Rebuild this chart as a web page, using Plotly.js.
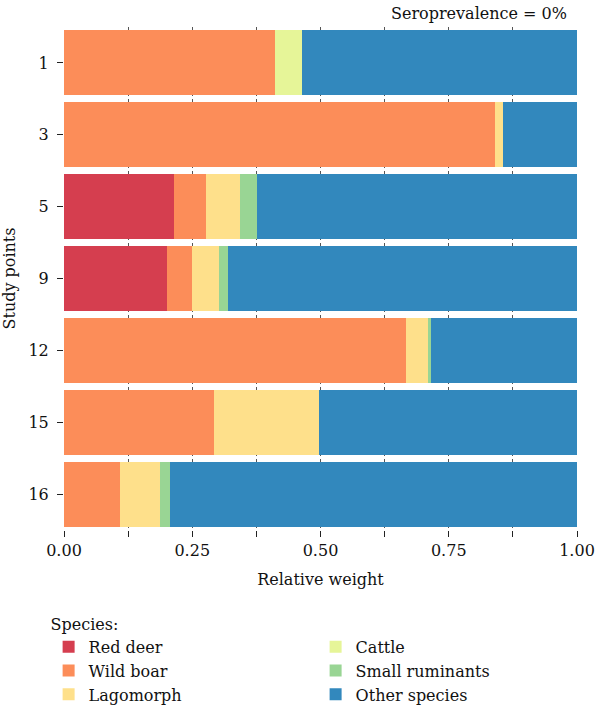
<!DOCTYPE html>
<html>
<head>
<meta charset="utf-8">
<script src="https://cdn.plot.ly/plotly-3.0.1.min.js"></script>
<style>
  html, body { margin: 0; padding: 0; background: #fff; }
  #chart { width: 600px; height: 708px; }
</style>
</head>
<body>
<div id="chart"></div>
<script>
// Study points, top to bottom
const studyPoints = ['1', '3', '5', '9', '12', '15', '16'];

// Relative weight of each species per study point (each row sums to 1)
const redDeer        = [0.000, 0.000, 0.214, 0.201, 0.000, 0.000, 0.000];
const wildBoar       = [0.411, 0.840, 0.063, 0.048, 0.666, 0.292, 0.109];
const lagomorph      = [0.000, 0.016, 0.066, 0.053, 0.044, 0.206, 0.079];
const cattle         = [0.053, 0.000, 0.000, 0.000, 0.000, 0.000, 0.000];
const smallRuminants = [0.000, 0.000, 0.033, 0.018, 0.005, 0.000, 0.019];
const otherSpecies   = [0.536, 0.144, 0.624, 0.680, 0.285, 0.502, 0.793];

const speciesNames  = ['Red deer', 'Wild boar', 'Lagomorph', 'Cattle', 'Small ruminants', 'Other species'];
const speciesValues = [redDeer, wildBoar, lagomorph, cattle, smallRuminants, otherSpecies];
const speciesColors = ['#D53E4F', '#FC8D59', '#FEE08B', '#E6F598', '#99D594', '#3288BD'];
// legend reads down two columns: left = first three, right = last three
const legendRanks   = [1, 3, 5, 2, 4, 6];

const xTickVals = [0, 0.125, 0.25, 0.375, 0.5, 0.625, 0.75, 0.875, 1];
const xTickText = ['0.00', '', '0.25', '', '0.50', '', '0.75', '', '1.00'];

const FONT = 'DejaVu Serif, serif';
const FS = 16;

const traces = speciesNames.map((name, i) => ({
  type: 'bar',
  orientation: 'h',
  name: name,
  x: speciesValues[i],
  y: studyPoints,
  marker: { color: speciesColors[i], line: { width: 0 } },
  legendrank: legendRanks[i],
  hovertemplate: name + ': %{x:.3f}<extra></extra>'
}));

const layout = {
  width: 600,
  height: 708,
  barmode: 'stack',
  bargap: 0.095,
  paper_bgcolor: '#ffffff',
  plot_bgcolor: '#ffffff',
  font: { family: FONT, size: FS, color: '#111111' },
  margin: { l: 64, r: 23, t: 27, b: 178, autoexpand: false },
  xaxis: {
    range: [0, 1],
    tickmode: 'array',
    tickvals: xTickVals,
    ticktext: xTickText,
    ticks: 'outside',
    ticklen: 6,
    tickwidth: 1,
    tickcolor: '#222222',
    showline: false,
    zeroline: false,
    showgrid: true,
    gridcolor: '#555555',
    gridwidth: 1,
    griddash: 'dot',
    tickfont: { family: FONT, size: FS, color: '#111111' },
    title: { text: 'Relative weight', font: { family: FONT, size: FS }, standoff: 14 },
    automargin: false,
    fixedrange: true
  },
  yaxis: {
    type: 'category',
    categoryorder: 'array',
    categoryarray: studyPoints,
    autorange: 'reversed',
    ticks: 'outside',
    ticklen: 6,
    tickwidth: 1,
    tickcolor: '#222222',
    ticklabelstandoff: 5,
    showgrid: false,
    showline: false,
    zeroline: false,
    tickfont: { family: FONT, size: FS, color: '#111111' },
    title: { text: 'Study points', font: { family: FONT, size: FS }, standoff: 12 },
    automargin: false,
    fixedrange: true
  },
  legend: {
    orientation: 'h',
    x: -0.03,
    xanchor: 'left',
    y: -0.157,
    yanchor: 'top',
    traceorder: 'normal',
    entrywidth: 222,
    entrywidthmode: 'pixels',
    font: { family: FONT, size: FS, color: '#111111' },
    title: { text: 'Species:', side: 'top', font: { family: FONT, size: FS } },
    bgcolor: 'rgba(0,0,0,0)'
  },
  annotations: [{
    text: 'Seroprevalence = 0%',
    xref: 'paper', yref: 'paper',
    x: 1, y: 1,
    xanchor: 'right', yanchor: 'bottom',
    xshift: -8, yshift: 2,
    showarrow: false,
    font: { family: FONT, size: FS, color: '#111111' }
  }],
  showlegend: true
};

Plotly.newPlot('chart', traces, layout, { displayModeBar: false, staticPlot: true });
</script>
</body>
</html>
